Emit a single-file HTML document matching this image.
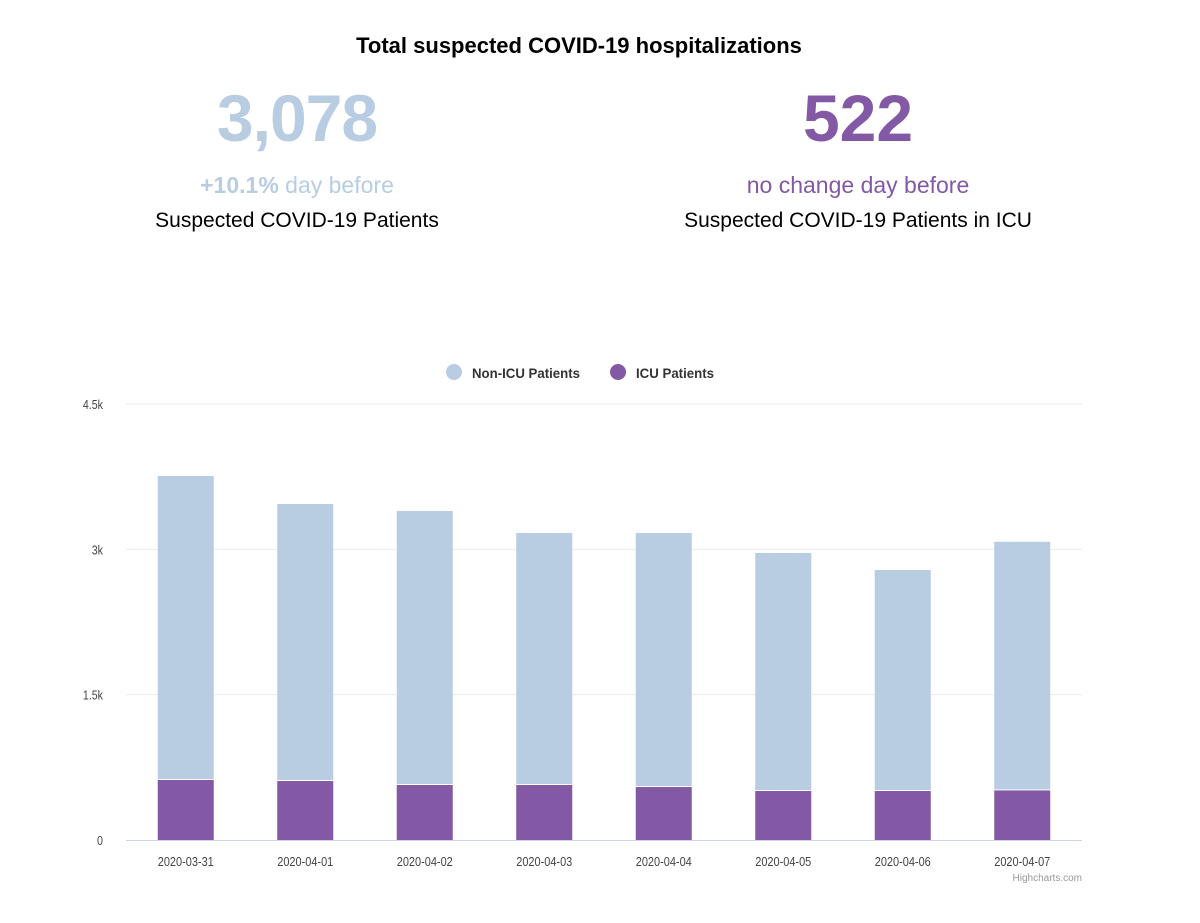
<!DOCTYPE html>
<html><head><meta charset="utf-8"><style>
body{margin:0;background:#fff;font-family:"Liberation Sans",sans-serif;}
#wrap{position:relative;width:1200px;height:923px;overflow:hidden;}
.t{position:absolute;white-space:nowrap;transform:translateX(-50%);}
</style></head><body>
<div id="wrap">
<div class="t" style="left:579px;top:33px;font-size:22px;font-weight:bold;color:#000;">Total suspected COVID-19 hospitalizations</div>
<div class="t" style="left:297px;top:80px;font-size:66px;font-weight:bold;color:#b8cce2;letter-spacing:-1px;">3,078</div>
<div class="t" style="left:297px;top:172px;font-size:23px;color:#b8cce2;"><b>+10.1%</b> day before</div>
<div class="t" style="left:297px;top:209px;font-size:21px;color:#000;">Suspected COVID-19 Patients</div>
<div class="t" style="left:858px;top:80px;font-size:66px;font-weight:bold;color:#8359a5;">522</div>
<div class="t" style="left:858px;top:172px;font-size:23px;color:#8359a5;">no change day before</div>
<div class="t" style="left:858px;top:209px;font-size:21px;color:#000;">Suspected COVID-19 Patients in ICU</div>
<svg id="chart" width="1200" height="923" style="position:absolute;left:0;top:0;" font-family="'Liberation Sans',sans-serif"></svg>
</div>
<script>
const categories=["2020-03-31","2020-04-01","2020-04-02","2020-04-03","2020-04-04","2020-04-05","2020-04-06","2020-04-07"];
const icuValues=[630,619,578,578,557,516,516,522];
const nonIcuValues=[3127,2849,2818,2591,2612,2446,2271,2556];
const tickValues=[0,1500,3000,4500];
const tickLabels=["0","1.5k","3k","4.5k"];
const svg=document.getElementById('chart');
const NS='http://www.w3.org/2000/svg';
const X0=126,X1=1082,Y0=840,Y1=404,MAX=4500;
const y=v=>Y0-(v/MAX)*(Y0-Y1);
const step=(X1-X0)/categories.length;
const xc=i=>X0+step*(i+0.5);
function mk(tag,attrs,text){const e=document.createElementNS(NS,tag);for(const k in attrs)e.setAttribute(k,attrs[k]);if(text!==undefined)e.textContent=text;svg.appendChild(e);return e;}
tickValues.forEach((v,i)=>{
  if(v>0){const g=mk('line',{x1:X0,x2:X1,y1:y(v),y2:y(v),stroke:'#ececec','stroke-width':1});
  
  }
  const t=mk('text',{x:103,y:y(v)+5,'text-anchor':'end','font-size':13,fill:'#444',transform:`translate(103 0) scale(0.82 1) translate(-103 0)`},tickLabels[i]);
  
  
});
const bw=56;
categories.forEach((c,i)=>{
  const tot=icuValues[i]+nonIcuValues[i];
  const r1=mk('rect',{x:xc(i)-bw/2,y:y(tot),width:bw,height:y(icuValues[i])-y(tot),fill:'#b8cce2'});
  
  
  const r2=mk('rect',{x:xc(i)-bw/2,y:y(icuValues[i])+1,width:bw,height:Y0-y(icuValues[i])-1,fill:'#8359a5'});
  
  
  const t=mk('text',{x:xc(i)-28,y:866,'font-size':13,fill:'#444',textLength:56,lengthAdjust:'spacingAndGlyphs'},c);
  
  
});
const ax=mk('line',{x1:X0,x2:X1,y1:Y0+0.5,y2:Y0+0.5,stroke:'#ccd6eb','stroke-width':1});


const l1=mk('circle',{cx:454,cy:372,r:8,fill:'#b8cce2'});


const lt1=mk('text',{x:472,y:378,'font-size':14,'font-weight':'bold',fill:'#333',textLength:108,lengthAdjust:'spacingAndGlyphs'},'Non-ICU Patients');


const l2=mk('circle',{cx:618,cy:372,r:8,fill:'#8359a5'});


const lt2=mk('text',{x:636,y:378,'font-size':14,'font-weight':'bold',fill:'#333',textLength:78,lengthAdjust:'spacingAndGlyphs'},'ICU Patients');


const cr=mk('text',{x:1082,y:881,'text-anchor':'end','font-size':10,fill:'#999'},'Highcharts.com');


</script>
</body></html>
